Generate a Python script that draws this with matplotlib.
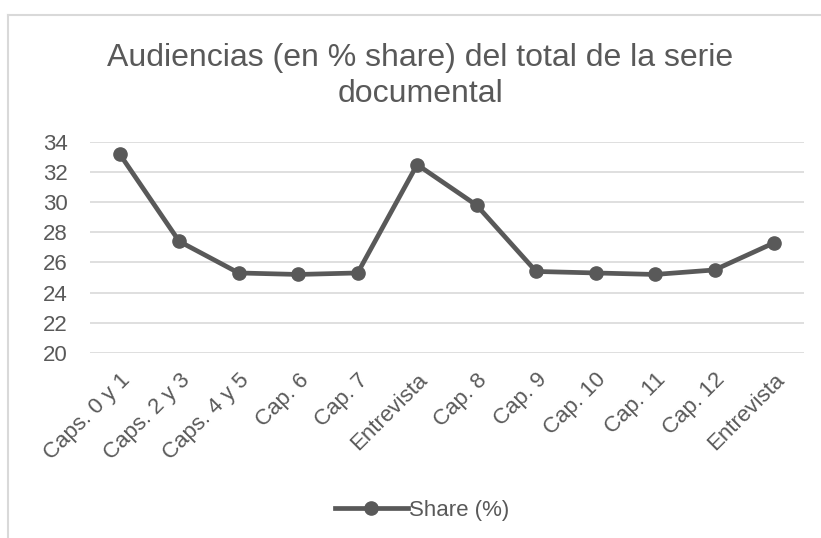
import matplotlib
matplotlib.use("Agg")
import matplotlib.pyplot as plt
from matplotlib.lines import Line2D

plt.rcParams["font.family"] = ["Liberation Sans", "DejaVu Sans"]

# Datos
capitulos = ["Caps. 0 y 1", "Caps. 2 y 3", "Caps. 4 y 5", "Cap. 6", "Cap. 7", "Entrevista",
             "Cap. 8", "Cap. 9", "Cap. 10", "Cap. 11", "Cap. 12", "Entrevista"]
share = [33.2, 27.4, 25.3, 25.2, 25.3, 32.5, 29.8, 25.4, 25.3, 25.2, 25.5, 27.3]
y_ticks = [20, 22, 24, 26, 28, 30, 32, 34]

texto = "#595959"
rejilla = "#d9d9d9"

fig = plt.figure(figsize=(8.21, 5.38), dpi=100)
ax = fig.add_axes([0.1096, 0.3444, 0.8694, 0.3916])

x = list(range(len(capitulos)))
ax.plot(x, share, "o-", color=texto, linewidth=3.4, markersize=9.5, label="Share (%)")

ax.set_xlim(-0.5, len(capitulos) - 0.5)
ax.set_ylim(20, 34)
ax.set_yticks(y_ticks)
ax.set_xticks(x)
ax.set_xticklabels(capitulos, rotation=45, ha="right", va="top", rotation_mode="anchor")
ax.tick_params(axis="both", length=0, labelsize=16, labelcolor=texto)
ax.tick_params(axis="y", pad=16)
ax.tick_params(axis="x", pad=12)

ax.grid(axis="y", color=rejilla, linewidth=1.2)
ax.set_axisbelow(True)
for s in ax.spines.values():
    s.set_visible(False)

fig.text(0.512, 0.859, "Audiencias (en % share) del total de la serie\ndocumental",
         ha="center", va="center", fontsize=23, color=texto, linespacing=1.27)

ax.legend(loc="center", bbox_to_anchor=(0.514, 0.052), bbox_transform=fig.transFigure,
          frameon=False, fontsize=16, labelcolor=texto, handlelength=3.3, handletextpad=0.05)

# Borde del área del gráfico
fig.add_artist(Line2D([8 / 821, 8 / 821], [0, 1 - 15 / 538], transform=fig.transFigure,
                      color=rejilla, linewidth=1.5))
fig.add_artist(Line2D([8 / 821, 1], [1 - 15 / 538, 1 - 15 / 538], transform=fig.transFigure,
                      color=rejilla, linewidth=1.5))

fig.savefig("out.png", dpi=100)
plt.close(fig)
